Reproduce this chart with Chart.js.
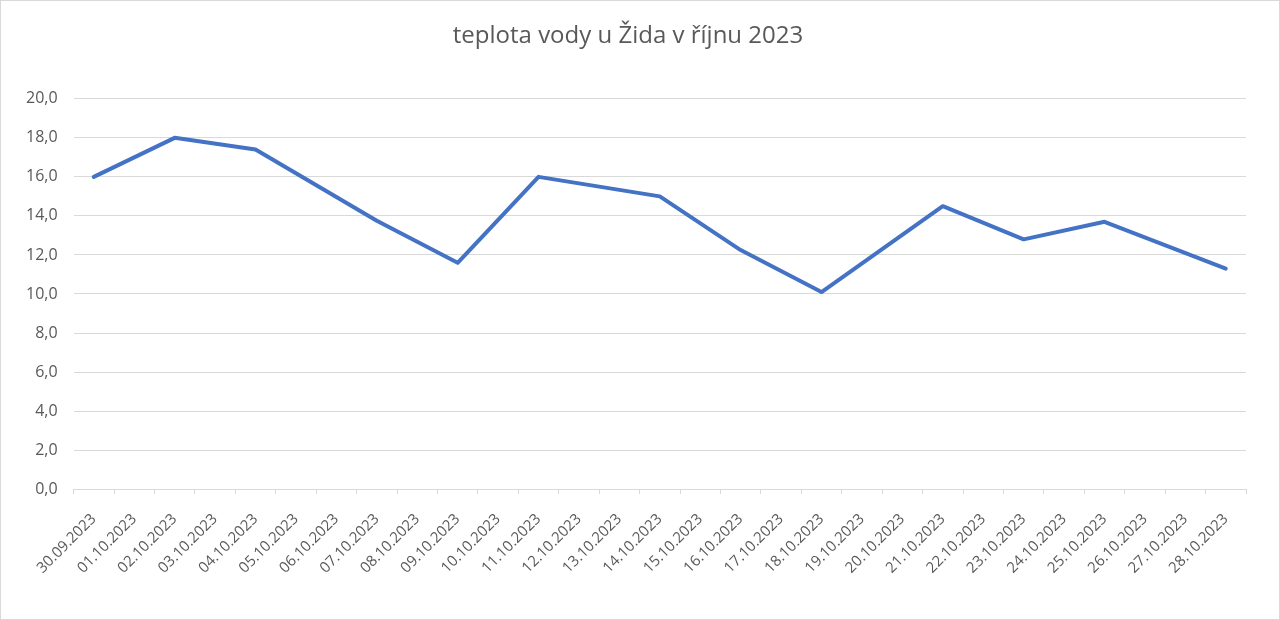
<!DOCTYPE html>
<html><head><meta charset="utf-8">
<script src="https://cdn.jsdelivr.net/npm/chart.js@4.4.0/dist/chart.umd.min.js"></script>
<style>
html,body{margin:0;padding:0;background:#fff;}
#wrap{position:absolute;left:0;top:0;width:1278px;height:618px;border:1px solid #d9d9d9;}
</style></head>
<body>
<div id="wrap"><canvas id="c"></canvas></div>
<script>
const chartTitle = "teplota vody u Žida v říjnu 2023";
const dates = ["30.09.2023","01.10.2023","02.10.2023","03.10.2023","04.10.2023","05.10.2023","06.10.2023","07.10.2023","08.10.2023","09.10.2023","10.10.2023","11.10.2023","12.10.2023","13.10.2023","14.10.2023","15.10.2023","16.10.2023","17.10.2023","18.10.2023","19.10.2023","20.10.2023","21.10.2023","22.10.2023","23.10.2023","24.10.2023","25.10.2023","26.10.2023","27.10.2023","28.10.2023"];
const temps = [16.0,null,18.0,null,17.4,null,null,13.75,null,11.6,null,16.0,null,null,15.0,null,12.25,null,10.1,null,null,14.5,null,12.8,null,13.7,null,null,11.3];
const yTicks = {min:0,max:20,step:2};

const txt = '#595959';
const grid = '#d9d9d9';
new Chart(document.getElementById('c'), {
  type:'line',
  data:{labels:dates,datasets:[{data:temps,borderColor:'#4472C4',borderWidth:4,pointRadius:0,spanGaps:true,tension:0,borderCapStyle:'round',borderJoinStyle:'round'}]},
  options:{
    responsive:true,maintainAspectRatio:false,animation:false,
    layout:{padding:{top:21,right:33,bottom:26,left:9}},
    plugins:{
      legend:{display:false},tooltip:{enabled:false},
      title:{display:true,text:chartTitle,color:txt,font:{family:'"Open Sans", sans-serif',size:24,weight:'normal'},padding:{top:0,bottom:48}}
    },
    scales:{
      x:{offset:true,
        grid:{offset:true,drawOnChartArea:false,color:grid,tickLength:5,tickColor:grid},
        border:{color:grid},
        ticks:{color:txt,font:{family:'"Open Sans", sans-serif',size:15},maxRotation:45,minRotation:45,autoSkip:false,padding:16}},
      y:{min:yTicks.min,max:yTicks.max,
        grid:{color:grid,drawTicks:false},
        border:{display:false},
        ticks:{stepSize:yTicks.step,color:txt,padding:16,font:{family:'"Open Sans", sans-serif',size:16},
          callback:v=>v.toFixed(1).replace('.',',')}}
    }
  }
});
</script>
</body></html>
